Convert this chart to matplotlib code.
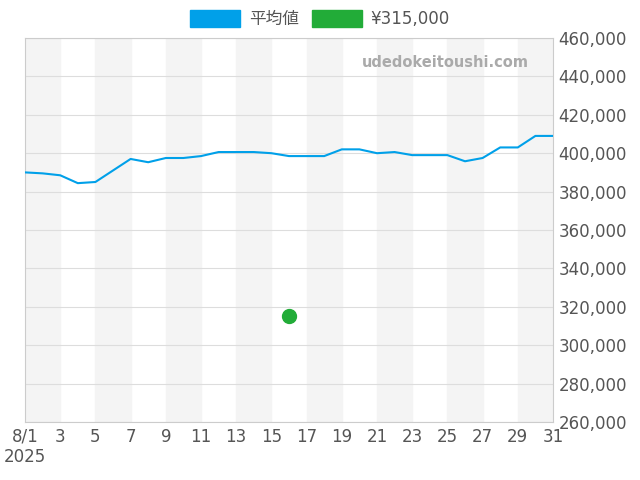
import matplotlib.pyplot as plt
from matplotlib.patches import Patch

plt.rcParams['font.family'] = ['DejaVu Sans', 'Noto Sans CJK JP']

# データ
days = list(range(1, 32))
avg = [390000, 389500, 388500, 384400, 385000, 391000, 397000, 395300, 397500, 397500,
       398500, 400600, 400600, 400600, 400000, 398500, 398500, 398500, 402000, 402000,
       400000, 400600, 399000, 399000, 399000, 395800, 397500, 403000, 403000, 409000, 409000]
point_day = [16]
point_val = [315000]
xticks = list(range(1, 32, 2))
xlabels = ['8/1\n2025'] + [str(d) for d in xticks[1:]]
yticks = list(range(260000, 460001, 20000))

fig = plt.figure(figsize=(6.4, 4.8), dpi=100)
ax = fig.add_axes([25/640, 1-422/480, 528/640, 384/480])

# 背景の縞
for start in range(1, 31, 4):
    ax.axvspan(start, start + 2, color='#f4f4f4', zorder=0)

ax.plot(days, avg, color='#00a0e9', lw=1.5, zorder=3)
ax.scatter(point_day, point_val, color='#22ac38', s=100, zorder=4)

ax.set_xlim(1, 31)
ax.set_ylim(260000, 460000)
ax.set_xticks(xticks)
ax.set_xticklabels(xlabels, fontsize=12, color='#555555')
ax.set_yticks(yticks)
ax.set_yticklabels([f'{v:,}' for v in yticks], fontsize=12, color='#555555')
ax.yaxis.tick_right()
ax.tick_params(length=0, pad=4)
ax.grid(axis='y', color='#dddddd', lw=0.8)
for s in ax.spines.values():
    s.set_color('#cccccc')

ax.text(0.955, 0.935, 'udedokeitoushi.com', transform=ax.transAxes, ha='right', va='center',
        fontsize=10.5, color='#aaaaaa', fontweight='bold')

handles = [Patch(color='#00a0e9', label='平均値'), Patch(color='#22ac38', label='¥315,000')]
fig.legend(handles=handles, loc='upper center', bbox_to_anchor=(0.5, 1.01), ncol=2, frameon=False,
           fontsize=12, handlelength=3, handleheight=1.2, handletextpad=0.5, columnspacing=0.8,
           labelcolor='#555555')

fig.savefig('out.png')
